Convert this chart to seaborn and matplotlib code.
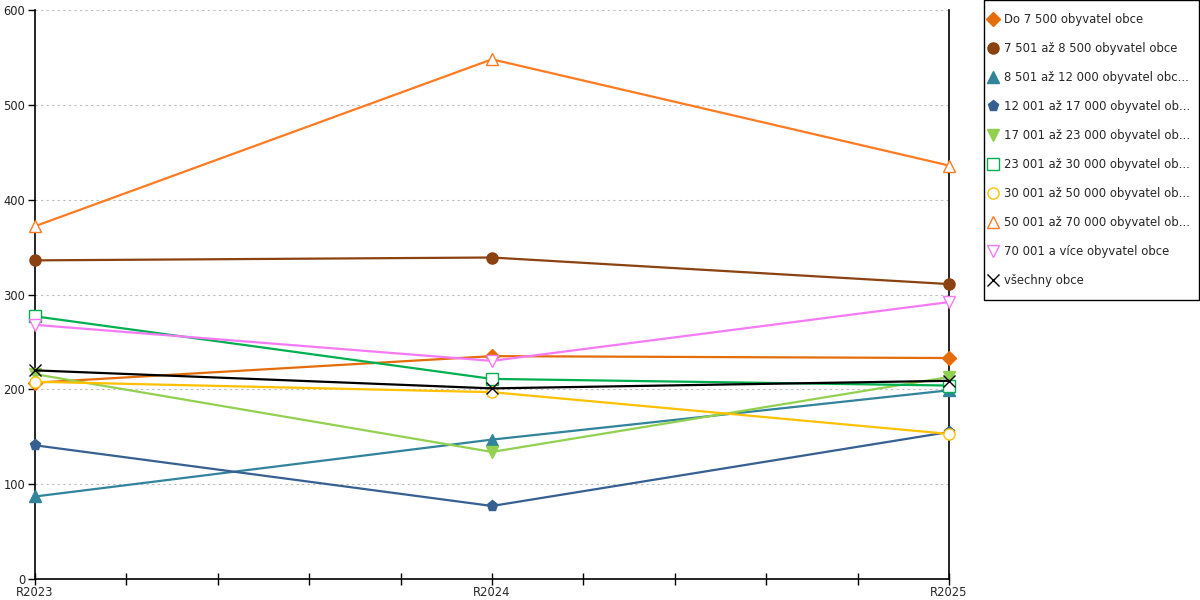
import numpy as np
import matplotlib
matplotlib.use("Agg")
import matplotlib.pyplot as plt
from matplotlib.lines import Line2D
from matplotlib.patches import Rectangle
from matplotlib import ticker
import seaborn as sns

# data
years = ["R2023", "R2024", "R2025"]
labels = [
    "Do 7 500 obyvatel obce",
    "7 501 až 8 500 obyvatel obce",
    "8 501 až 12 000 obyvatel obc...",
    "12 001 až 17 000 obyvatel ob...",
    "17 001 až 23 000 obyvatel ob...",
    "23 001 až 30 000 obyvatel ob...",
    "30 001 až 50 000 obyvatel ob...",
    "50 001 až 70 000 obyvatel ob...",
    "70 001 a více obyvatel obce",
    "všechny obce",
]
do_7500 = [207, 235, 233]
s_7501_8500 = [336, 339, 311]
s_8501_12000 = [87, 147, 199]
s_12001_17000 = [141, 77, 155]
s_17001_23000 = [216, 134, 213]
s_23001_30000 = [277, 211, 204]
s_30001_50000 = [208, 197, 153]
s_50001_70000 = [372, 548, 436]
s_70001_plus = [268, 230, 292]
vsechny = [220, 201, 209]

series = [do_7500, s_7501_8500, s_8501_12000, s_12001_17000, s_17001_23000,
          s_23001_30000, s_30001_50000, s_50001_70000, s_70001_plus, vsechny]
colors = ["#E46C0A", "#8B4110", "#31849B", "#366092", "#92D050",
          "#00B050", "#FFC000", "#FF7A21", "#F57AF5", "#000000"]
markers = ["D", "o", "^", "p", "v", "s", "o", "^", "v", "x"]
filled = [True, True, True, True, True, False, False, False, False, True]
msizes = [7, 8, 8, 8, 8, 8, 8, 8, 8, 8]

sns.set_style("white")
plt.rcParams["font.family"] = ["DejaVu Sans"]
fig = plt.figure(figsize=(12, 6), dpi=100)
ax = fig.add_axes([35 / 1200, 21 / 600, 914 / 1200, 569 / 600])

xpos = np.arange(len(years))
handles = []
for vals, lab, c, m, f, ms in zip(series, labels, colors, markers, filled, msizes):
    mfc = c if f else "white"
    sns.lineplot(x=xpos, y=vals, ax=ax, color=c, linewidth=1.6, marker=m,
                 markersize=ms, markerfacecolor=mfc, markeredgecolor=c,
                 markeredgewidth=1.0, legend=False, clip_on=False, zorder=3)
    handles.append(Line2D([], [], linestyle="none", marker=m, color=c,
                          markerfacecolor=mfc, markeredgecolor=c,
                          markersize=ms, label=lab))

ax.set_xlim(0, 2)
ax.set_ylim(0, 600)
ax.set_xticks(xpos)
ax.set_xticklabels(years)
ax.xaxis.set_minor_locator(ticker.MultipleLocator(0.2))
ax.yaxis.set_major_locator(ticker.MultipleLocator(100))
ax.tick_params(axis="x", which="both", direction="inout", length=8, width=1,
               color="black", labelsize=8.3, pad=1)
ax.tick_params(axis="y", which="major", direction="out", length=5, width=1,
               color="black", labelsize=8.3, pad=2)
ax.tick_params(left=True, bottom=True)
ax.xaxis.set_tick_params(which="minor", bottom=True)

for t in ax.get_yticklabels():
    t.set_color("#222222")

ax.yaxis.grid(True, linestyle=(0, (2, 3)), color="#BBBBBB", linewidth=0.8)
ax.xaxis.grid(False)
ax.set_axisbelow(True)
ax.spines["top"].set_visible(False)
for s in ["left", "bottom", "right"]:
    ax.spines[s].set_color("black")
    ax.spines[s].set_linewidth(1.2)
ax.set_xlabel("")
ax.set_ylabel("")

# legend box drawn separately so the entries can sit where they do in the original
fig.patches.append(Rectangle((983.5 / 1200, 300.5 / 600), 215 / 1200, 299 / 600,
                             transform=fig.transFigure, fill=False,
                             edgecolor="black", linewidth=1.0))
leg = fig.legend(handles=handles, loc="upper left",
                 bbox_to_anchor=(988 / 1200, 1 - 13 / 600),
                 fontsize=8.4, frameon=False, borderaxespad=0, borderpad=0,
                 labelspacing=1.37, handletextpad=0.56, handlelength=0.8)

fig.savefig("out.png", dpi=100)
